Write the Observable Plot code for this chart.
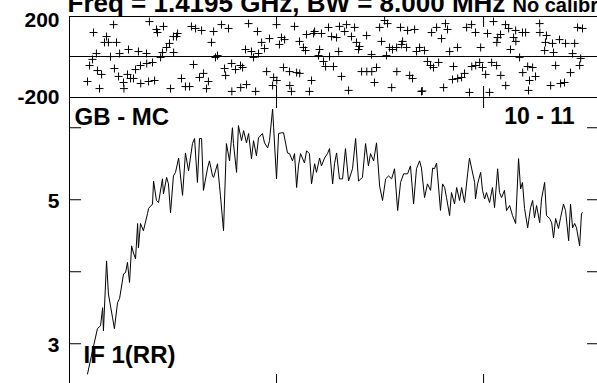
<!DOCTYPE html>
<html><head><meta charset="utf-8">
<script src="https://cdn.jsdelivr.net/npm/d3@7"></script>
<script src="https://cdn.jsdelivr.net/npm/@observablehq/plot@0.6"></script>
<style>
html,body{margin:0;padding:0;overflow:hidden;background:#fff;}
#chart{position:relative;width:597px;height:383px;overflow:hidden;}
#chart svg{position:absolute;left:0;top:0;}
</style></head><body><div id="chart"></div>
<script>
// ---- texts ----
const titleText = "Freq = 1.4195 GHz, BW = 8.000 MHz";
const calibText = "No calibration";
const baselineLabel = "GB - MC";
const scanLabel = "10 - 11";
const ifLabel = "IF 1(RR)";

// ---- ticks ----
const channelTicks = [100, 200];
const phaseTickLabels = [200, -200];
const ampTicks = [3, 4, 5, 6];
const ampTickLabels = [3, 5];

// ---- amplitude spectrum (channel, amplitude) ----
const ampChannel = [
  8.7,11.1,13.5,15.0,16.0,16.4,17.9,18.8,20.8,21.7,
  23.2,24.2,26.1,27.1,28.0,29.0,30.0,30.9,31.9,32.9,
  33.3,34.3,35.7,37.7,38.2,40.1,40.6,42.0,43.0,44.9,
  45.4,46.9,47.8,48.8,50.2,51.2,52.2,52.7,54.6,56.0,
  57.5,59.4,60.4,61.8,62.8,63.8,64.7,66.7,67.6,69.1,
  69.6,71.5,72.0,72.9,74.4,75.8,77.3,78.7,79.2,80.7,
  81.6,83.1,84.1,85.5,86.5,87.9,88.9,90.3,91.3,93.2,
  94.2,95.7,96.6,98.1,98.6,100.0,101.0,102.4,103.4,105.3,
  106.3,107.7,108.7,109.7,110.6,111.6,113.5,114.5,115.9,116.9,
  118.4,119.3,120.8,121.7,123.2,124.6,125.6,127.1,128.0,129.0,
  130.4,131.9,133.3,134.8,136.7,138.2,139.6,141.5,143.0,144.4,
  145.4,146.9,148.3,149.8,151.2,152.7,154.1,155.6,157.0,158.5,
  159.9,161.4,163.3,164.7,166.2,167.6,169.1,170.0,171.5,172.9,
  174.4,175.4,176.3,177.3,179.2,180.2,181.2,182.1,183.6,184.5,
  186.0,187.0,188.4,189.4,190.8,192.3,193.2,194.2,195.7,196.1,
  197.1,198.6,199.5,200.5,201.4,202.9,204.3,205.3,206.8,207.7,
  208.7,210.1,211.1,212.6,214.0,215.5,216.9,217.9,218.8,219.8,
  221.3,222.7,223.7,224.6,225.6,227.1,228.0,229.5,230.4,231.9,
  232.9,233.8,234.8,236.2,237.2,238.6,239.6,241.1,242.0,243.0,
  244.0,244.9,246.4,247.3,247.8
];
const ampValue = [
  2.58,2.90,3.21,3.25,3.50,3.18,4.15,3.69,3.36,3.21,
  3.57,3.63,3.97,3.99,4.13,3.85,4.36,4.26,4.18,4.67,
  4.33,4.67,4.57,4.81,4.88,4.94,5.26,4.99,4.96,5.29,
  5.08,5.31,5.22,4.82,5.33,5.38,5.51,5.58,5.06,5.65,
  5.40,5.78,5.85,5.24,5.85,5.85,5.13,5.44,5.54,5.33,
  5.31,5.50,5.33,5.06,4.57,5.78,5.54,6.00,5.78,5.38,
  6.03,5.82,5.96,5.79,5.92,5.57,5.82,5.61,5.86,5.92,
  5.79,5.72,5.82,6.26,6.00,5.29,5.92,5.93,5.93,5.65,
  5.64,5.54,5.64,5.17,5.47,5.64,5.51,5.68,5.64,5.22,
  5.50,5.38,5.58,5.47,5.58,5.64,5.71,5.22,5.50,5.65,
  5.29,5.29,5.71,5.26,5.43,5.85,5.26,5.31,5.78,5.47,
  5.64,5.54,5.79,5.19,4.99,5.29,5.33,5.29,5.43,4.85,
  5.24,5.36,5.36,5.47,4.94,5.43,5.54,5.44,5.03,5.22,
  5.13,5.44,5.43,5.51,4.85,5.22,5.17,5.03,4.78,5.10,
  4.94,5.17,4.99,5.17,4.96,5.36,5.58,5.44,5.24,5.01,
  5.22,5.38,5.13,5.01,5.10,4.96,5.17,4.89,5.43,5.10,
  5.03,5.13,4.85,4.92,4.78,4.67,5.57,5.15,5.24,4.88,
  4.61,4.89,4.99,4.75,4.92,4.68,5.01,5.24,4.78,4.74,
  4.68,4.47,4.74,4.60,4.75,4.94,4.85,4.43,4.94,4.61,
  4.67,4.61,4.36,4.81,4.82
];

// ---- phase (channel, degrees) ----
const phaseChannel = [
  8.7,9.7,11.1,11.6,13.0,13.5,14.5,15.5,16.9,17.9,
  18.8,19.8,21.3,21.7,22.7,23.7,24.2,26.1,26.3,28.0,
  28.5,29.5,30.9,31.9,33.3,34.3,34.4,37.2,37.3,38.2,
  38.6,40.1,41.1,42.0,42.5,44.0,44.9,45.4,46.9,48.3,
  48.8,50.2,50.3,51.7,52.2,54.1,56.0,58.0,58.9,59.9,
  60.9,62.8,63.8,64.7,66.2,67.1,68.6,69.6,70.5,71.5,
  73.4,74.9,75.4,76.8,78.3,78.4,80.2,82.6,82.7,83.6,
  85.0,85.5,86.5,87.9,88.9,89.9,90.8,91.3,92.8,94.2,
  95.2,96.6,98.1,98.6,100.0,100.1,101.4,102.4,103.4,103.9,
  106.3,106.4,107.2,108.7,109.7,111.1,111.2,113.0,114.0,114.5,
  115.9,116.9,117.9,118.4,120.3,120.8,121.7,122.7,123.7,125.1,
  125.6,126.6,127.5,129.0,130.0,130.4,131.4,132.9,133.8,134.8,
  136.2,137.7,138.6,139.6,140.1,141.1,143.5,143.6,145.9,146.0,
  147.3,148.3,149.8,150.7,152.2,153.1,153.6,154.6,155.6,156.0,
  158.0,158.1,159.9,160.4,160.9,162.8,163.3,164.3,165.7,166.7,
  167.6,169.1,170.0,170.4,171.5,172.9,174.4,174.9,175.8,177.3,
  178.3,179.7,180.7,181.6,182.6,183.6,185.0,185.5,187.4,187.5,
  189.4,190.8,191.8,193.2,194.2,194.3,196.1,196.2,198.1,198.6,
  199.5,201.0,201.9,202.9,203.9,204.8,206.3,206.4,206.8,208.2,
  208.3,210.6,210.7,212.1,213.0,214.5,215.5,215.6,217.4,218.8,
  218.9,220.3,221.3,221.7,222.2,223.7,225.1,227.1,227.2,229.5,
  229.9,230.4,232.4,233.3,233.8,234.8,236.7,237.2,239.1,239.6,
  242.0,243.0,244.0,245.4,246.4,246.9,247.8
];
const phaseValue = [
  -121,-42,-12,121,17,-67,-156,-86,72,101,
  72,2,160,-57,72,-96,17,-126,-156,-86,
  37,-106,-106,-62,27,-42,-131,17,-32,-121,
  175,-27,-116,136,121,-2,22,151,47,67,
  -156,101,22,101,116,-106,-146,-146,151,-37,
  141,-101,131,-81,-156,-121,72,126,-2,7,
  160,-57,-91,141,-32,-170,-62,-42,-151,-52,
  37,-136,165,27,-2,-170,126,17,72,42,
  -72,91,-141,-101,160,-116,62,96,-52,86,
  -72,-141,-170,151,-77,77,-81,47,32,111,
  -170,-116,116,126,7,37,116,-22,-47,146,
  2,101,-47,96,27,151,-96,126,160,-165,
  101,146,72,37,52,-72,106,-72,12,-72,
  -126,-52,146,77,180,7,165,47,-151,37,
  47,-72,146,62,77,47,131,-91,-106,136,
  27,47,-170,-168,32,-22,-42,121,-52,146,
  -27,91,-151,165,136,27,-111,-47,47,-106,
  -101,-81,146,-175,160,-47,121,-42,-27,47,
  -52,-86,116,-175,-27,175,-42,72,96,111,
  -91,160,-141,141,37,96,131,77,-2,121,
  -77,121,-47,-165,-116,-52,-96,165,121,32,
  72,106,-141,67,22,-42,86,-131,-126,67,
  -77,17,67,146,-42,-7,141
];

const amp = ampChannel.map((c, i) => ({c, v: ampValue[i]})).filter(d => d.v != null);
const phase = phaseChannel.map((c, i) => ({c, p: phaseValue[i]})).filter(d => d.p != null);

const font = "'Liberation Sans', Arial, Helvetica, sans-serif";
const W = 600;
const common = {
  width: W,
  marginLeft: 69,
  marginRight: 1,
  x: {domain: [0, 256], axis: null},
  style: {fontFamily: font, background: "transparent", maxWidth: "none", color: "black"}
};
const bold = {fontWeight: "bold", fill: "black", lineAnchor: "middle"};

const topPanel = Plot.plot({
  ...common,
  height: 383,
  marginTop: 16,
  marginBottom: 383 - 97,
  y: {domain: [-200, 200], axis: null},
  marks: [
    Plot.frame({stroke: "black"}),
    Plot.ruleY([0], {stroke: "black", strokeWidth: 1, dy: -0.5}),
    Plot.tickX(channelTicks, {x: d => d, insetBottom: 70, stroke: "black"}),
    Plot.tickX(channelTicks, {x: d => d, insetTop: 70, stroke: "black"}),
    Plot.dot(phase, {x: "c", y: "p", symbol: "plus", r: 2.7, stroke: "black", strokeWidth: 1}),
    Plot.axisY([phaseTickLabels[0]], {label: null, tickSize: 0, tickPadding: 10, fontSize: 21, dy: 4, tickFormat: d => String(d), ...bold}),
    Plot.axisY([phaseTickLabels[1]], {label: null, tickSize: 0, tickPadding: 10, fontSize: 21, dy: 0, tickFormat: d => String(d), ...bold}),
    Plot.text([titleText], {frameAnchor: "top-left", textAnchor: "start", dx: -2, dy: -13.3, fontSize: 26, ...bold}),
    Plot.text([calibText], {frameAnchor: "top-left", textAnchor: "start", dx: 443, dy: -11.4, fontSize: 20, ...bold})
  ]
});

const bottomPanel = Plot.plot({
  ...common,
  height: 385,
  marginTop: 97,
  marginBottom: 0,
  y: {domain: [2.42, 6.42], axis: null},
  marks: [
    Plot.frame({stroke: "black"}),
    Plot.tickX(channelTicks, {x: d => d, insetBottom: 277, stroke: "black"}),
    Plot.tickX(channelTicks, {x: d => d, insetTop: 277, stroke: "black"}),
    Plot.tickY(ampTicks, {y: d => d, insetRight: 518, stroke: "black"}),
    Plot.tickY(ampTicks, {y: d => d, insetLeft: 518, stroke: "black"}),
    Plot.line(amp, {x: "c", y: "v", stroke: "black", strokeWidth: 1}),
    Plot.axisY(ampTickLabels, {label: null, tickSize: 0, tickPadding: 10, fontSize: 21, dy: 2, tickFormat: d => String(d), ...bold}),
    Plot.text([baselineLabel], {frameAnchor: "top-left", textAnchor: "start", dx: 5, dy: 20.3, fontSize: 24, ...bold}),
    Plot.text([scanLabel], {frameAnchor: "top-right", textAnchor: "end", dx: -25, dy: 19.6, fontSize: 23, ...bold}),
    Plot.text([ifLabel], {frameAnchor: "bottom-left", textAnchor: "start", dx: 14, dy: -29.7, fontSize: 24, ...bold})
  ]
});

const chart = document.getElementById("chart");
chart.appendChild(topPanel);
chart.appendChild(bottomPanel);
if (ampChannel.length !== ampValue.length || phaseChannel.length !== phaseValue.length) {
  const warn = document.createElement("div");
  warn.textContent = `len mismatch amp ${ampChannel.length}/${ampValue.length} phase ${phaseChannel.length}/${phaseValue.length}`;
  warn.style.cssText = "position:absolute;left:200px;top:300px;color:red;font:12px sans-serif";
  chart.appendChild(warn);
}
</script></body></html>
